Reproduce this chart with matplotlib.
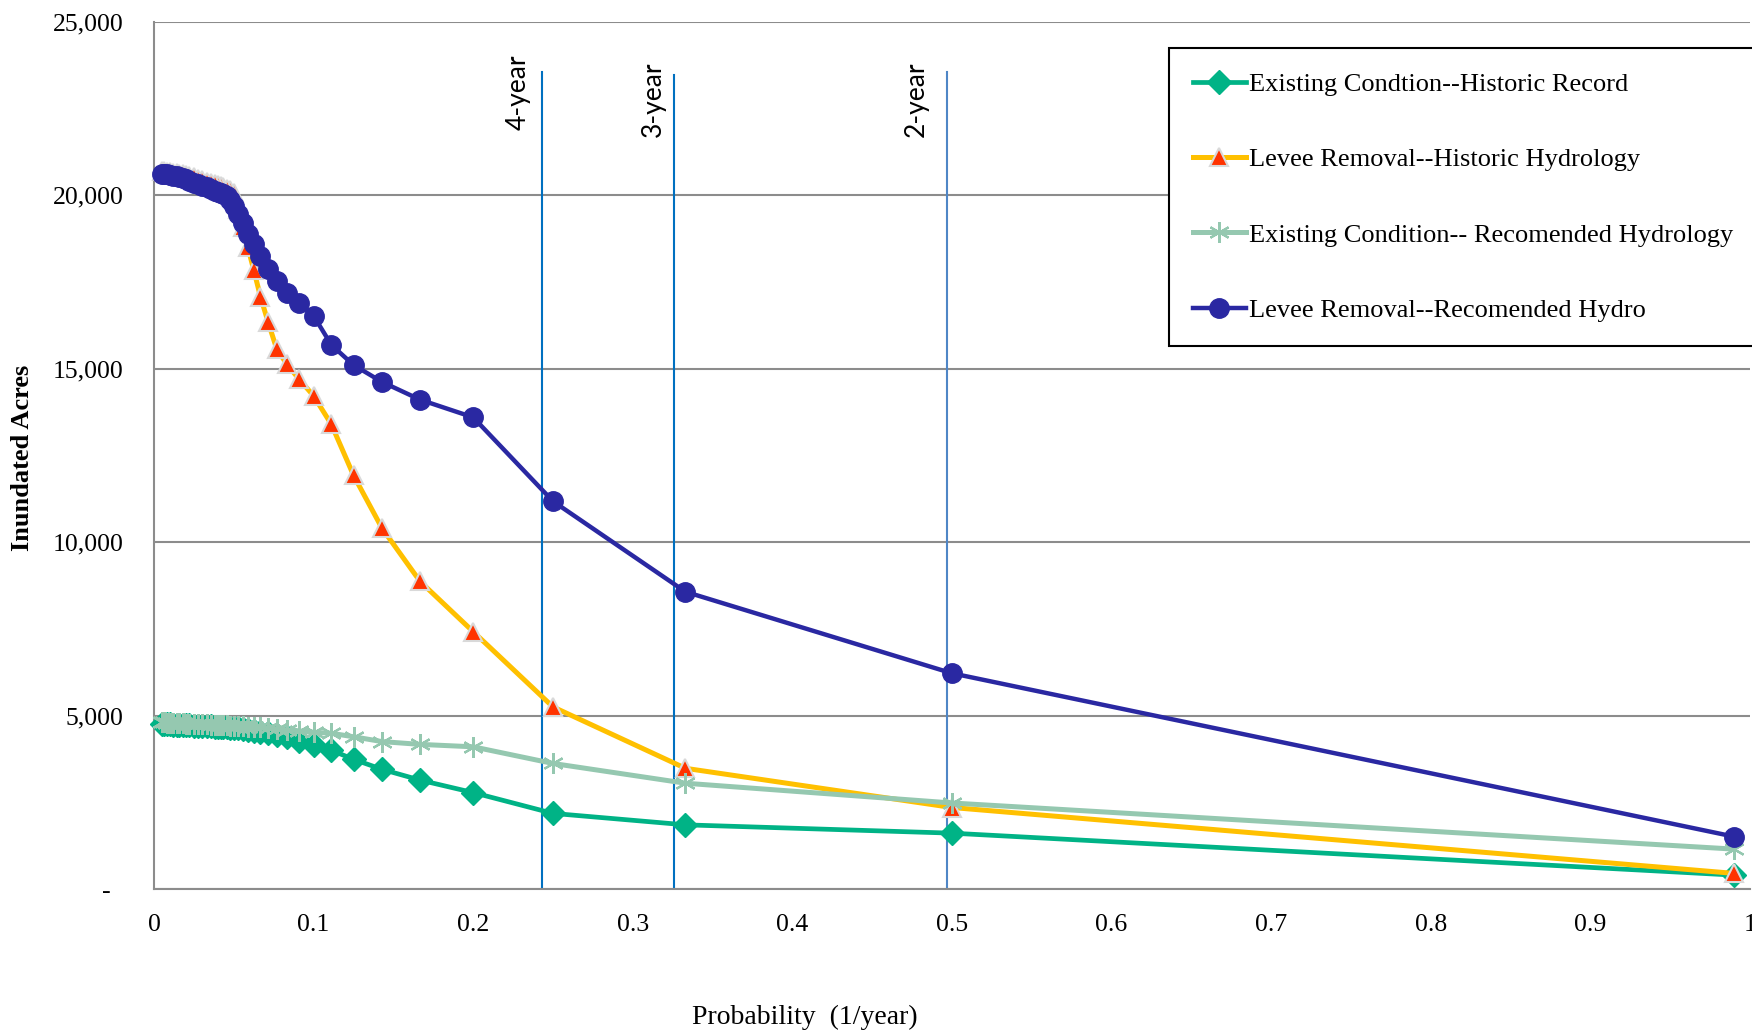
import matplotlib
matplotlib.use("Agg")
import matplotlib.pyplot as plt

# ---- data ----
probability = [0.99, 0.5, 0.333, 0.25, 0.2, 0.1667, 0.1429, 0.125, 0.1111, 0.1,
               0.0909, 0.0833, 0.0769, 0.0714, 0.0667, 0.0625, 0.0588, 0.0556, 0.0526, 0.05,
               0.0476, 0.0455, 0.0435, 0.0417, 0.04, 0.0385, 0.0357, 0.0333, 0.0303, 0.0278,
               0.025, 0.0222, 0.02, 0.0179, 0.0159, 0.0141, 0.012, 0.01, 0.008, 0.006, 0.005]

existing_historic = [400, 1610, 1850, 2180, 2780, 3140, 3450, 3740, 4000, 4150,
                     4280, 4380, 4450, 4500, 4540, 4570, 4590, 4610, 4630, 4640,
                     4650, 4660, 4670, 4675, 4680, 4685, 4690, 4695, 4700, 4705,
                     4710, 4715, 4720, 4725, 4730, 4735, 4740, 4745, 4750, 4755, 4760]

levee_historic = [450, 2350, 3480, 5250, 7420, 8870, 10400, 11930, 13400, 14220,
                  14700, 15130, 15570, 16360, 17080, 17850, 18500, 19100, 19600, 20080,
                  20150, 20190, 20230, 20260, 20290, 20320, 20360, 20400, 20440, 20480,
                  20520, 20560, 20590, 20610, 20630, 20650, 20660, 20670, 20680, 20690, 20700]

existing_recommended = [1150, 2480, 3050, 3620, 4100, 4170, 4250, 4390, 4490, 4520,
                        4560, 4590, 4620, 4640, 4660, 4670, 4680, 4690, 4700, 4705,
                        4710, 4715, 4720, 4725, 4730, 4735, 4740, 4745, 4750, 4755,
                        4760, 4765, 4770, 4775, 4780, 4785, 4790, 4795, 4800, 4805, 4810]

levee_recommended = [1510, 6220, 8570, 11180, 13600, 14110, 14620, 15110, 15690, 16530,
                     16900, 17180, 17520, 17880, 18250, 18600, 18900, 19200, 19470, 19700,
                     19880, 19990, 20040, 20080, 20110, 20140, 20190, 20230, 20280, 20320,
                     20370, 20420, 20460, 20490, 20520, 20550, 20570, 20590, 20610, 20620, 20630]

series_labels = ["Existing Condtion--Historic Record",
                 "Levee Removal--Historic Hydrology",
                 "Existing Condition-- Recomended Hydrology",
                 "Levee Removal--Recomended Hydro"]

ref_lines_x = [0.243, 0.3256, 0.4967]
ref_lines_top = [23550, 23470, 23570]
ref_labels = ["4-year", "3-year", "2-year"]
ref_label_x = [0.228, 0.3127, 0.4779]
ref_label_y = [21890, 21680, 21680]
ref_colors = ["#0070C0", "#0070C0", "#4F86C6"]

yticks = [0, 5000, 10000, 15000, 20000, 25000]
ytick_labels = ["-  ", "5,000", "10,000", "15,000", "20,000", "25,000"]
xticks = [0, 0.1, 0.2, 0.3, 0.4, 0.5, 0.6, 0.7, 0.8, 0.9, 1.0]
xtick_labels = ["0", "0.1", "0.2", "0.3", "0.4", "0.5", "0.6", "0.7", "0.8", "0.9", "1"]

# ---- figure ----
W, H = 1752, 1033
fig = plt.figure(figsize=(W / 100, H / 100), dpi=100)
ax = fig.add_axes([154 / W, 1 - 889 / H, (1750 - 154) / W, (889 - 22) / H])

serif = ["Liberation Serif", "DejaVu Serif"]

ax.set_xlim(0, 1)
ax.set_ylim(0, 25000)
ax.set_yticks(yticks)
ax.set_yticklabels(ytick_labels, family=serif, fontsize=18.5)
ax.set_xticks(xticks)
ax.set_xticklabels(xtick_labels, family=serif, fontsize=18.5)
ax.tick_params(axis="y", length=0, pad=22)
ax.tick_params(axis="x", length=0, pad=18)
ax.yaxis.grid(True, color="#8C8C8C", lw=1.5)
ax.set_axisbelow(True)
for s in ["top", "right"]:
    ax.spines[s].set_visible(False)
for s in ["left", "bottom"]:
    ax.spines[s].set_color("#8C8C8C")
    ax.spines[s].set_linewidth(1.5)

# reference return-period lines
for xv, top, c in zip(ref_lines_x, ref_lines_top, ref_colors):
    ax.plot([xv, xv], [0, top], color=c, lw=1.5, zorder=1.5)
for xv, yv, t in zip(ref_label_x, ref_label_y, ref_labels):
    ax.text(xv, yv, t, rotation=90, ha="center", va="bottom", fontsize=19,
            family=["Lato", "DejaVu Sans"], color="black")

h1, = ax.plot(probability, existing_historic, color="#00B386", lw=3.4, marker="D",
              ms=12, mec="#00B386", clip_on=False, zorder=3, label=series_labels[0])
h2, = ax.plot(probability, levee_historic, color="#FFC000", lw=3.6, marker="^",
              ms=13, mfc="#FF3300", mec="#D9D9D9", mew=1.5, clip_on=False, zorder=3,
              label=series_labels[1])
h3, = ax.plot(probability, existing_recommended, color="#95C8B0", lw=3.6, marker=(6, 2, 0),
              ms=15, mec="#95C8B0", mew=1.6, clip_on=False, zorder=3, label=series_labels[2])
h4, = ax.plot(probability, levee_recommended, color="#2A28A2", lw=3.2, marker="o",
              ms=14, mec="#2A28A2", clip_on=False, zorder=3, label=series_labels[3])

leg = fig.legend(handles=[h1, h2, h3, h4], loc="upper left",
                 bbox_to_anchor=(1168.7 / W, 1 - 48 / H),
                 prop={"family": serif, "size": 19}, frameon=True, fancybox=False,
                 edgecolor="black", framealpha=1, numpoints=1,
                 handlelength=2.0, handletextpad=0.12, labelspacing=1.97,
                 borderpad=0.92, borderaxespad=0)
leg.get_frame().set_linewidth(1.5)

fig.text(804.5 / W, 1 - 1017 / H, "Probability  (1/year)", ha="center", va="center",
         family=serif, fontsize=20)
fig.text(22.3 / W, 1 - 458 / H, "Inundated Acres", rotation=90, ha="center", va="center",
         family=serif, fontsize=19, fontweight="bold")

fig.savefig("out.png", dpi=100)
